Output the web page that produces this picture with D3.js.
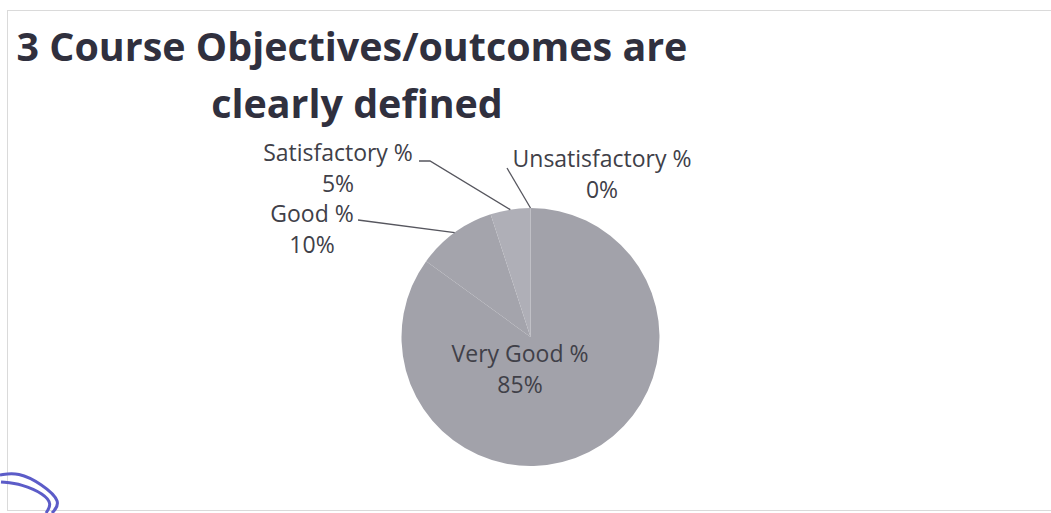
<!DOCTYPE html>
<html>
<head>
<meta charset="utf-8">
<script src="https://cdn.jsdelivr.net/npm/d3@7/dist/d3.min.js"></script>
<style>
  html, body { margin: 0; padding: 0; background: #ffffff; }
  svg { display: block; }
</style>
</head>
<body>
<svg id="chart" width="1051" height="513"></svg>
<script>
// ---- data ----
const titleLines = ["3 Course Objectives/outcomes are", "clearly defined"];
const categories = ["Very Good %", "Good %", "Satisfactory %", "Unsatisfactory %"];
const values = [85, 10, 5, 0];
const sliceColors = ["#a2a2aa", "#a4a4ac", "#afafb7", "#a2a2aa"];

// ---- layout ----
const W = 1051, H = 513;
const cx = 530.5, cy = 337, R = 129;
const labelFont = "'Open Sans', 'DejaVu Sans', sans-serif";

const svg = d3.select("#chart");

// chart-area dotted border
svg.append("rect")
  .attr("x", 7.5).attr("y", 10.5).attr("width", W + 10).attr("height", 500)
  .attr("fill", "none").attr("stroke", "#b5b5b5").attr("stroke-width", 1)
  .attr("stroke-dasharray", "1,1");

// title
const title = svg.append("g").attr("fill", "#30303e")
  .attr("font-family", labelFont).attr("font-weight", 700);
const t1 = title.append("text").attr("text-anchor", "middle").attr("x", 352).attr("y", 61)
  .attr("font-size", 40).text(titleLines[0]);
const w1 = t1.node().getComputedTextLength();
const titleSize = 40 * 671 / w1;
t1.attr("font-size", titleSize);
title.append("text").attr("text-anchor", "middle").attr("x", 357).attr("y", 118)
  .attr("font-size", titleSize).text(titleLines[1]);

// pie
const pie = d3.pie().sort(null).value(d => d.value);
const arcs = pie(categories.map((c, i) => ({ name: c, value: values[i], color: sliceColors[i] })));
const arc = d3.arc().innerRadius(0).outerRadius(R);

const g = svg.append("g").attr("transform", `translate(${cx},${cy})`);
g.selectAll("path.slice").data(arcs).join("path")
  .attr("class", "slice")
  .attr("d", arc)
  .attr("fill", d => d.data.color);

// label font size: fit "Unsatisfactory %" to its measured width
const probe = svg.append("text").attr("font-family", labelFont).attr("font-size", 20).text(categories[3]);
const labelSize = 20 * 179 / probe.node().getComputedTextLength();
probe.remove();

// label placements (relative to pie centre), outside labels get leader lines
const labelPos = [
  { dx: -10.5, dy: 25, leader: null },
  { dx: -218.5, dy: -115, leader: { x: -172.5, y: -117 } },
  { dx: -192.5, dy: -176, leader: { x: -111.5, y: -176, x2: -100.5 } },
  { dx: 71.5, dy: -170, leader: { x: -23.5, y: -169 } }
];
const lineH = 31;

arcs.forEach((a, i) => {
  const p = labelPos[i];
  const t = g.append("text")
    .attr("font-family", labelFont).attr("font-size", labelSize)
    .attr("fill", "#404048").attr("text-anchor", "middle");
  t.append("tspan").attr("x", p.dx).attr("y", p.dy).text(a.data.name);
  t.append("tspan").attr("x", p.dx).attr("y", p.dy + lineH)
    .text(Math.round(a.data.value / d3.sum(values) * 100) + "%");
  if (p.leader) {
    const mid = (a.startAngle + a.endAngle) / 2;
    const ex = R * Math.sin(mid), ey = -R * Math.cos(mid);
    const pts = [[p.leader.x, p.leader.y]];
    if (p.leader.x2 !== undefined) pts.push([p.leader.x2, p.leader.y]);
    pts.push([ex, ey]);
    g.append("path").attr("d", d3.line()(pts))
      .attr("fill", "none").attr("stroke", "#56565e").attr("stroke-width", 1.3);
  }
});

// pen mark at bottom-left (scan artefact)
const pen = d3.line().curve(d3.curveBasis);
svg.append("path")
  .attr("d", pen([[0, 475], [18, 472], [42, 484], [62, 502], [52, 513]]))
  .attr("fill", "none").attr("stroke", "#5c5cc8").attr("stroke-width", 3);
svg.append("path")
  .attr("d", pen([[1, 482], [22, 484], [44, 494], [52, 504], [46, 513]]))
  .attr("fill", "none").attr("stroke", "#5c5cc8").attr("stroke-width", 3);
</script>
</body>
</html>
